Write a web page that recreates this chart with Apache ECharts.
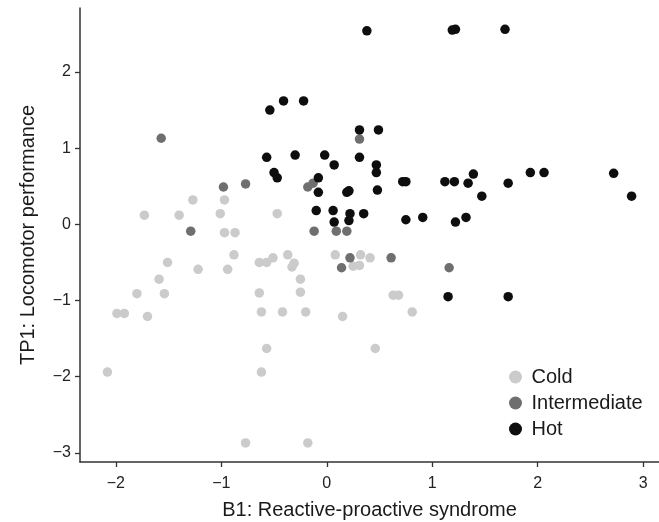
<!DOCTYPE html>
<html><head><meta charset="utf-8">
<script src="https://cdn.jsdelivr.net/npm/echarts@6/dist/echarts.min.js"></script>
<style>html,body{margin:0;padding:0;background:#fff}#c{width:659px;height:522px}</style>
</head><body><div id="c"></div>
<script>
const seriesNames = ["Cold", "Intermediate", "Hot"];
const xTicks = [-2, -1, 0, 1, 2, 3];
const yTicks = [-3, -2, -1, 0, 1, 2];
const coldPoints = [
  [-1.27,0.32],[-0.97,0.32],[-1.73,0.12],[-1.40,0.12],[-1.01,0.14],[-0.47,0.14],
  [-0.97,-0.11],[-0.87,-0.11],
  [-1.51,-0.50],[-1.22,-0.59],[-0.88,-0.40],[-0.94,-0.59],
  [-1.59,-0.72],[-1.80,-0.91],[-1.54,-0.91],
  [-1.99,-1.17],[-1.92,-1.17],[-1.70,-1.21],[-2.08,-1.94],
  [-0.64,-0.50],[-0.57,-0.50],[-0.51,-0.44],[-0.37,-0.40],[-0.33,-0.56],[-0.31,-0.51],[-0.25,-0.72],
  [-0.64,-0.90],[-0.25,-0.89],[-0.62,-1.15],[-0.42,-1.15],[-0.20,-1.15],
  [-0.57,-1.63],[-0.62,-1.94],[-0.77,-2.87],[-0.18,-2.87],
  [0.08,-0.40],[0.25,-0.55],[0.31,-0.54],[0.32,-0.40],[0.41,-0.44],
  [0.15,-1.21],[0.63,-0.93],[0.68,-0.93],[0.81,-1.15],[0.46,-1.63]
];
const intermediatePoints = [
  [-1.57,1.13],[0.31,1.12],[-0.98,0.49],[-0.77,0.53],[-0.18,0.49],[-0.13,0.54],
  [-1.29,-0.09],[-0.12,-0.09],[0.09,-0.09],[0.19,-0.09],
  [0.22,-0.44],[0.61,-0.44],[0.14,-0.57],[1.16,-0.57]
];
const hotPoints = [
  [0.38,2.54],[1.19,2.55],[1.22,2.56],[1.69,2.56],
  [-0.54,1.50],[-0.41,1.62],[-0.22,1.62],
  [0.31,1.24],[0.49,1.24],
  [-0.57,0.88],[-0.30,0.91],[-0.02,0.91],[0.31,0.88],
  [0.07,0.78],[0.47,0.78],[0.47,0.68],
  [-0.50,0.68],[-0.47,0.61],[-0.08,0.61],
  [-0.08,0.42],[0.19,0.42],[0.21,0.44],[0.48,0.45],
  [0.72,0.56],[0.75,0.56],[1.12,0.56],[1.21,0.56],[1.34,0.54],[1.39,0.66],[1.47,0.37],[1.72,0.54],[1.93,0.68],[2.06,0.68],[2.72,0.67],[2.89,0.37],
  [-0.10,0.18],[0.06,0.18],[0.22,0.14],[0.35,0.14],
  [0.07,0.03],[0.21,0.05],[0.75,0.06],[0.91,0.09],[1.22,0.03],[1.32,0.09],
  [1.15,-0.95],[1.72,-0.95]
];
const colors = ["#cbcbcb", "#6f6f6f", "#0e0e0e"];
const xTitle = "B1: Reactive-proactive syndrome";
const yTitle = "TP1: Locomotor performance";

const FONT = "Liberation Sans, Arial, sans-serif";
const fmt = v => String(v).replace("-", "\u2212");
const lineStyle = {color: "#333", width: 1.5};
const chart = echarts.init(document.getElementById("c"), null, {renderer: "canvas"});
const allData = [coldPoints, intermediatePoints, hotPoints];
chart.setOption({
  animation: false,
  backgroundColor: "#fff",
  grid: {left: 80, right: 0, top: 8, bottom: 60, containLabel: false, outerBoundsMode: "none"},
  xAxis: {
    type: "value", min: -2.34, max: 3.15,
    name: xTitle, nameLocation: "middle", nameGap: 38,
    nameTextStyle: {fontFamily: FONT, fontSize: 20, color: "#1a1a1a"},
    axisLine: {show: true, onZero: false, lineStyle: lineStyle},
    axisTick: {show: true, length: 5, customValues: xTicks, lineStyle: {color: "#333", width: 1.3}},
    axisLabel: {fontFamily: FONT, fontSize: 16, color: "#222", margin: 14, customValues: xTicks, formatter: fmt},
    splitLine: {show: false}
  },
  yAxis: {
    type: "value", min: -3.12, max: 2.84,
    name: yTitle, nameLocation: "middle", nameGap: 42,
    nameTextStyle: {fontFamily: FONT, fontSize: 20, color: "#1a1a1a"},
    axisLine: {show: true, onZero: false, lineStyle: lineStyle},
    axisTick: {show: true, length: 5, customValues: yTicks, lineStyle: {color: "#333", width: 1.3}},
    axisLabel: {fontFamily: FONT, fontSize: 16, color: "#222", margin: 9, customValues: yTicks, formatter: fmt},
    splitLine: {show: false}
  },
  legend: {
    orient: "vertical", left: 504, top: 362,
    itemWidth: 22, itemHeight: 13, itemGap: 6, icon: "circle",
    textStyle: {fontFamily: FONT, fontSize: 20, color: "#1a1a1a"},
    data: seriesNames
  },
  series: seriesNames.map((n, i) => ({
    name: n, type: "scatter", data: allData[i],
    symbol: "circle", symbolSize: 9.5,
    itemStyle: {color: colors[i], opacity: 1},
    z: 2 + i
  }))
});
</script></body></html>
